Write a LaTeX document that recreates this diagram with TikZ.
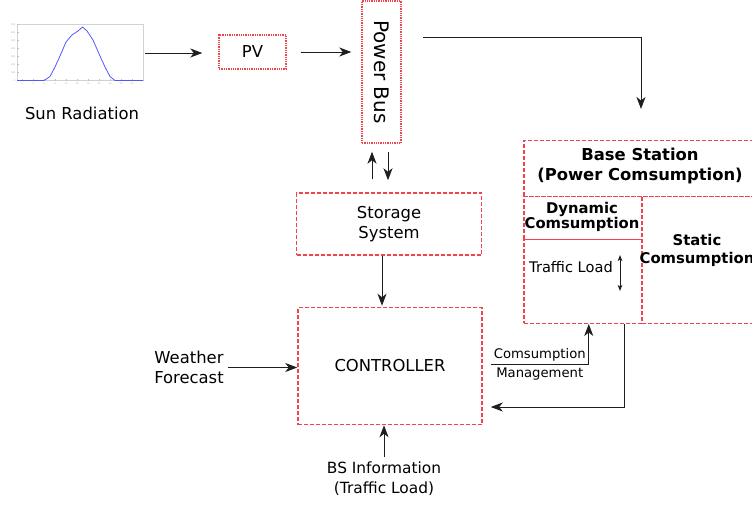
\documentclass[tikz,border=0pt]{standalone}
\usepackage{fontspec}
\setmainfont{DejaVu Sans}
\usetikzlibrary{arrows.meta,calc}
\definecolor{boxred}{RGB}{242,66,78}
\definecolor{linegray}{RGB}{30,30,30}
\definecolor{curveblue}{RGB}{85,85,255}
\begin{document}
\begin{tikzpicture}[x=1pt,y=-1pt,
  font=\fontsize{16.4}{20.5}\selectfont,
  dashbox/.style={draw=boxred, dash pattern=on 4pt off 2pt, line width=1.5pt,
                  inner sep=0pt, align=center},
  dotbox/.style={draw=boxred, dash pattern=on 1.3pt off 1pt, line width=1.4pt,
                 inner sep=0pt, align=center},
  conn/.style={draw=linegray, line width=0.9pt,
               -{Stealth[length=12pt,width=9pt,inset=3.5pt]}},
  smallarr/.style={draw=linegray, line width=0.9pt,
               {Stealth[length=6pt,width=4.5pt,inset=1.5pt]}-{Stealth[length=6pt,width=4.5pt,inset=1.5pt]}},
  btitle/.style={font=\fontsize{16.4}{20}\selectfont\bfseries, align=center, inner sep=0pt},
  bsub/.style={font=\fontsize{14.8}{15.5}\selectfont\bfseries, align=center, inner sep=0pt},
  plain/.style={align=center, inner sep=2pt}]

\useasboundingbox (0,0) rectangle (752,506);
\clip (0,0) rectangle (752,506);

% ---- solar radiation profile ----
\draw[gray!35, line width=0.5pt] (17,24) rectangle (143,80.5);
\foreach \xx in {22,33,44,55,66,77,88,99,110,121,132}
  \draw[gray!50, line width=0.3pt] (\xx,80.5) -- (\xx,79);
\foreach \yy in {80.5,72.5,64.5,56.5,48.5,40.5,32.5,24.5}
  \draw[gray!50, line width=0.3pt] (17,\yy) -- (18.5,\yy);
\foreach \yy [count=\i from 0] in {80.5,72.5,64.5,56.5,48.5,40.5,32.5,24.5}
  \node[gray!70, font=\fontsize{2.2}{2.2}\selectfont, inner sep=0pt, anchor=east] at (15.5,\yy) {\the\numexpr\i*100\relax};
\foreach \xx [count=\i] in {22,33,44,55,66,77,88,99,110,121,132}
  \node[gray!70, font=\fontsize{2.2}{2.2}\selectfont, inner sep=0pt] at (\xx,83.5) {\the\numexpr\i*2\relax};
\draw[curveblue, line width=0.8pt, line join=round]
  (17,80.5) -- (44,80.5) -- (50,76.5) -- (55,67) -- (60,56) -- (66,42) -- (72,35)
  -- (78,31) -- (82.5,27) -- (87,31) -- (93,40) -- (100,56) -- (105,67) -- (110,76.5)
  -- (115,80.5) -- (143,80.5);
\node[plain] (sunlabel) at (82,113) {Sun Radiation};
\coordinate (sunout) at (145,53);

% ---- generation chain ----
\node[dotbox, minimum width=67, minimum height=34] (pv) at (252.5,52) {PV};
\node[dotbox, minimum width=39, minimum height=142] (bus) at (381.5,72)
  {\rotatebox{-90}{\fontsize{20}{24}\selectfont Power Bus}};
\node[dashbox, minimum width=185, minimum height=62] (storage) at (389,224)
  {Storage\\System};
\node[dashbox, minimum width=184, minimum height=117] (ctrl) at (390,366)
  {CONTROLLER};

% ---- base station ----
\node[dashbox, anchor=north west, minimum width=234, minimum height=56] (bs) at (523,139.5) {};
\node[btitle] (bstext) at (640,166) {Base Station\\(Power Comsumption)};
\node[dashbox, anchor=north west, minimum width=118, minimum height=43] (dyn) at (523,195.5) {};
\node[bsub] (dyntext) at (582,217) {Dynamic\\Comsumption};
\node[dashbox, anchor=north west, minimum width=118, minimum height=84] (tl) at (523,238.5) {};
\node[dashbox, anchor=north west, minimum width=116, minimum height=127] (static) at (641,195.5) {};
\node[bsub, font=\fontsize{14.8}{18}\selectfont\bfseries] (statictext) at (697,250) {Static\\Comsumption};
\node[inner sep=0pt, font=\fontsize{14.6}{17}\selectfont] (tltext) at (571,267) {Traffic Load};
\coordinate (tlup) at (620,255);
\coordinate (tldown) at (620,291);
\draw[smallarr] (tlup) -- (tldown);

% ---- external inputs ----
\node[plain, inner sep=4pt] (wf) at (189,367.5) {Weather\\Forecast};
\node[plain, font=\fontsize{15.4}{20.5}\selectfont] (bsi) at (384,478.5) {BS Information\\(Traffic Load)};

% ---- connectors ----
\draw[conn, shorten >=16pt] (sunout) -- (sunout -| pv.west);
\draw[conn, shorten <=14pt, shorten >=10pt] (pv.east) -- (pv.east -| bus.west);
\coordinate (busout) at (423,37);
\coordinate (bstop) at (641,139);
\draw[conn, shorten >=30pt] (busout) -| (bstop);
\draw[conn, shorten <=13pt, shorten >=8pt]
  ([xshift=-9.5pt]bus.south |- storage.north) -- ([xshift=-9.5pt]bus.south);
\draw[conn, shorten <=8pt, shorten >=12pt]
  ([xshift=6.5pt]bus.south) -- ([xshift=6.5pt]bus.south |- storage.north);
\draw[conn, shorten >=1pt] ([xshift=-7pt]storage.south) -- ([xshift=-7pt]storage.south |- ctrl.north);
\draw[conn] (wf.east) -- (wf.east -| ctrl.west);
\draw[conn, shorten <=2pt] (bsi.north) -- (bsi.north |- ctrl.south);
\draw[conn] ([shift={(8pt,2pt)}]ctrl.east) -| ([xshift=6pt]tl.south)
  node[pos=0.25, above=-1pt, font=\fontsize{13.2}{15}\selectfont] {Comsumption}
  node[pos=0.25, below=0pt, font=\fontsize{13.2}{15}\selectfont] {Management};
\draw[conn] ([xshift=42pt]tl.south) |- ([shift={(8pt,-41pt)}]ctrl.east);

\end{tikzpicture}
\end{document}
